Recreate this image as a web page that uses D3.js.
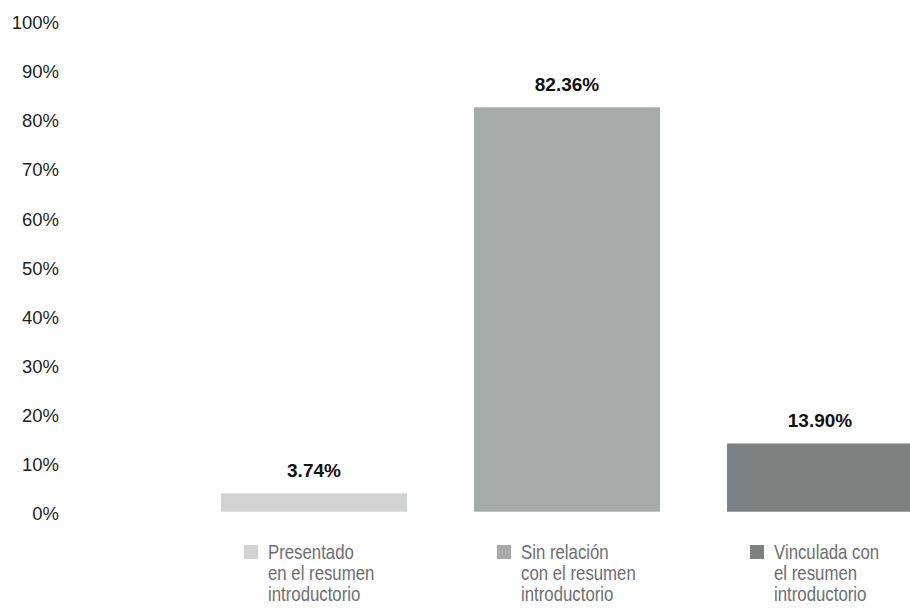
<!DOCTYPE html>
<html>
<head>
<meta charset="utf-8">
<script src="https://cdn.jsdelivr.net/npm/d3@7"></script>
<style>
  html, body { margin: 0; padding: 0; background: #ffffff; }
  svg { display: block; font-family: "Liberation Sans", Arial, sans-serif; }
</style>
</head>
<body>
<svg id="chart" width="910" height="610"></svg>
<script>
const categories = ["Presentado", "Sin relación", "Vinculada"];
const values = [3.74, 82.36, 13.90];
const valueLabels = ["3.74%", "82.36%", "13.90%"];
const legendLines = [
  ["Presentado", "en el resumen", "introductorio"],
  ["Sin relación", "con el resumen", "introductorio"],
  ["Vinculada con", "el resumen", "introductorio"]
];
const colors = ["#d1d3d3", "#a7aaab", "#7e8181"];
const yTicks = [0, 10, 20, 30, 40, 50, 60, 70, 80, 90, 100];

const svg = d3.select("#chart");

const x = d3.scaleBand()
  .domain(categories)
  .range([221, 913])
  .paddingInner(0.265)
  .paddingOuter(0);

const y = d3.scaleLinear()
  .domain([0, 100])
  .range([511.7, 20.7]);

// Y axis (labels only)
const yAxis = d3.axisLeft(y)
  .tickValues(yTicks)
  .tickFormat(d => d + "%")
  .tickSize(0)
  .tickPadding(0);

const gy = svg.append("g")
  .attr("transform", "translate(59,0)")
  .call(yAxis);
gy.select(".domain").remove();
gy.selectAll("text")
  .attr("font-family", "'Liberation Sans', Arial, sans-serif")
  .attr("font-size", 18.5)
  .attr("fill", "#231f20")
  .attr("dy", "0.43em");

// Bars
svg.append("g")
  .selectAll("rect")
  .data(categories)
  .join("rect")
  .attr("x", d => x(d))
  .attr("y", (d, i) => y(values[i]))
  .attr("width", x.bandwidth())
  .attr("height", (d, i) => y(0) - y(values[i]))
  .attr("fill", (d, i) => colors[i]);

// Value labels
svg.append("g")
  .selectAll("text")
  .data(categories)
  .join("text")
  .attr("x", d => x(d) + x.bandwidth() / 2)
  .attr("y", (d, i) => y(values[i]) - 16)
  .attr("text-anchor", "middle")
  .attr("font-size", 19)
  .attr("font-weight", "bold")
  .attr("fill", "#111111")
  .text((d, i) => valueLabels[i]);

// Legend under each bar (condensed text)
const legendSize = 20;
const lineH = 21;
categories.forEach((c, i) => {
  const g = svg.append("g")
    .attr("transform", `translate(${x(c) + x.bandwidth() / 2 - 70},0)`);
  g.append("rect")
    .attr("x", 0)
    .attr("y", 545)
    .attr("width", 14)
    .attr("height", 14)
    .attr("fill", colors[i]);
  const t = g.append("text")
    .attr("transform", "translate(24,0) scale(0.84,1)")
    .attr("font-family", "'Liberation Sans', Arial, sans-serif")
    .attr("font-size", legendSize)
    .attr("fill", "#6d6e70");
  legendLines[i].forEach((line, j) => {
    t.append("tspan")
      .attr("x", 0)
      .attr("y", 559.5 + j * lineH)
      .text(line);
  });
});
</script>
</body>
</html>
